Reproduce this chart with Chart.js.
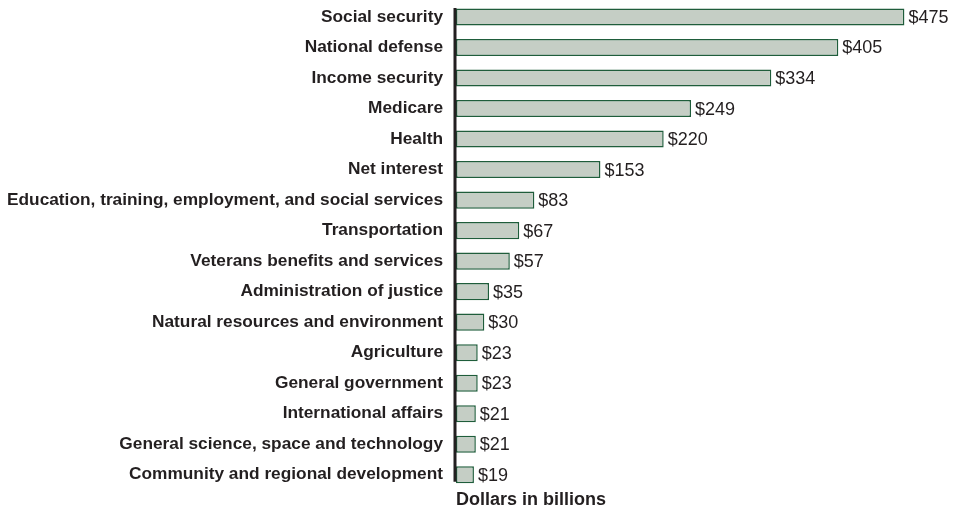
<!DOCTYPE html>
<html>
<head>
<meta charset="utf-8">
<script src="https://cdn.jsdelivr.net/npm/chart.js@4/dist/chart.umd.min.js"></script>
<style>
  html, body { margin: 0; padding: 0; background: #fff; }
  #wrap { width: 961px; height: 512px; position: relative; }
</style>
</head>
<body>
<div id="wrap"><canvas id="spend"></canvas></div>
<script>
const categories = [
    "Social security",
    "National defense",
    "Income security",
    "Medicare",
    "Health",
    "Net interest",
    "Education, training, employment, and social services",
    "Transportation",
    "Veterans benefits and services",
    "Administration of justice",
    "Natural resources and environment",
    "Agriculture",
    "General government",
    "International affairs",
    "General science, space and technology",
    "Community and regional development"
];
const outlays = [475, 405, 334, 249, 220, 153, 83, 67, 57, 35, 30, 23, 23, 21, 21, 19];
const axisTitle = "Dollars in billions";

const ink = "#231f20";
const fontFamily = "'Liberation Sans', Arial, Helvetica, sans-serif";

// dollar labels at the end of each bar, vertical axis rule, and the unit caption
const extras = {
    id: "extras",
    afterDatasetsDraw(chart) {
        const ctx = chart.ctx;
        const meta = chart.getDatasetMeta(0);
        ctx.save();
        ctx.fillStyle = ink;
        ctx.font = "18px " + fontFamily;
        ctx.textAlign = "left";
        ctx.textBaseline = "middle";
        meta.data.forEach((bar, i) => {
            ctx.fillText("$" + outlays[i], bar.x + 4, bar.y + 1);
        });

        const y = chart.scales.y;
        const left = chart.chartArea.left;
        const top = y.getPixelForValue(0) - 9;
        const bottom = y.getPixelForValue(categories.length - 1) + 7;
        ctx.strokeStyle = ink;
        ctx.lineWidth = 3;
        ctx.beginPath();
        ctx.moveTo(left - 1, top);
        ctx.lineTo(left - 1, bottom);
        ctx.stroke();

        ctx.font = "bold 18px " + fontFamily;
        ctx.textBaseline = "middle";
        ctx.fillText(axisTitle, left, 500);
        ctx.restore();
    }
};

new Chart(document.getElementById("spend"), {
    type: "bar",
    data: {
        labels: categories,
        datasets: [
            {
                data: outlays,
                backgroundColor: "#c5cec5",
                borderColor: "#1f5d3b",
                borderWidth: 1.5,
                borderSkipped: false,
                categoryPercentage: 1,
                barPercentage: 0.56
            }
        ]
    },
    options: {
        indexAxis: "y",
        responsive: true,
        maintainAspectRatio: false,
        animation: false,
        layout: {
            padding: { left: 0, right: 33, top: -2, bottom: 22 }
        },
        plugins: {
            legend: { display: false },
            tooltip: { enabled: false }
        },
        scales: {
            x: {
                display: false,
                min: 0,
                max: 500
            },
            y: {
                afterFit(scale) {
                    scale.width = 456;
                },
                grid: { display: false, drawTicks: true, tickLength: 13 },
                border: { display: false },
                ticks: {
                    color: ink,
                    padding: 0,
                    autoSkip: false,
                    font: { family: fontFamily, size: 17.3, weight: "bold", lineHeight: 0.2 }
                }
            }
        }
    },
    plugins: [extras]
});
</script>
</body>
</html>
